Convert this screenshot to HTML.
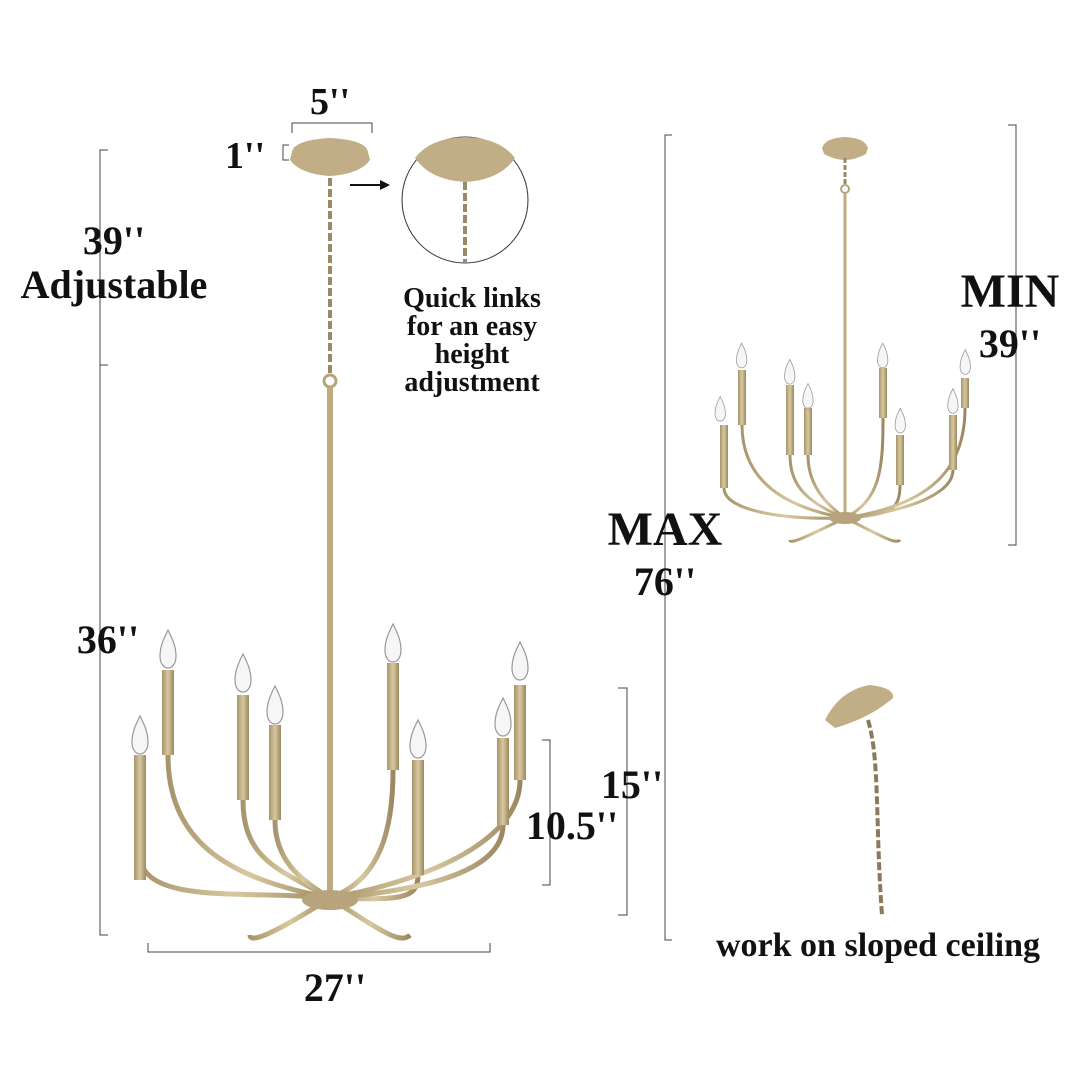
<!DOCTYPE html>
<html><head><meta charset="utf-8"><style>
html,body{margin:0;padding:0;background:#fff;width:1080px;height:1080px;overflow:hidden}
svg{display:block}
text{font-family:"Liberation Serif",serif;font-weight:bold;fill:#111;text-anchor:middle}
</style></head><body>
<svg width="1080" height="1080" viewBox="0 0 1080 1080">
<defs>
<linearGradient id="g" x1="0" x2="1"><stop offset="0" stop-color="#a8946a"/><stop offset=".5" stop-color="#d8c8a0"/><stop offset="1" stop-color="#9c8860"/></linearGradient>
<g id="bulb"><path d="M0,-22 C-4,-14 -8,-6 -8,4 C-8,12 -4,16 0,16 C4,16 8,12 8,4 C8,-6 4,-14 0,-22Z" fill="#f6f6f6" stroke="#999" stroke-width="1.2"/></g>
</defs>
<g stroke="#444" stroke-width="1" fill="none">
<path d="M108,150 H100 V365 H108"/>
<path d="M108,365 H100 V935 H108"/>
<path d="M148,943 V952 H490 V943"/>
<path d="M618,688 H627 V915 H618"/>
<path d="M542,740 H550 V885 H542"/>
<path d="M292,133 V123 H372 V133"/>
<path d="M289,145 H283 V160 H289"/>
<path d="M672,135 H665 V940 H672"/>
<path d="M1008,125 H1016 V545 H1008"/>
<circle cx="465" cy="200" r="63" stroke="#333"/>
</g>
<path d="M350,185 H380" stroke="#111" stroke-width="2"/><path d="M380,180 L390,185 L380,190Z" fill="#111"/>
<!-- main chandelier -->
<path d="M330,178 V375" stroke="#9a8a68" stroke-width="4" stroke-dasharray="8 3" fill="none"/>
<circle cx="330" cy="381" r="6" stroke="#b8a47c" stroke-width="3" fill="none"/>
<path d="M330,388 V895" stroke="#bfab82" stroke-width="6"/>
<g stroke="url(#g)" fill="none" stroke-width="5">
<path d="M330,898 C250,890 150,905 140,860"/>
<path d="M330,898 C240,880 168,850 168,755"/>
<path d="M330,898 C280,870 243,860 243,800"/>
<path d="M330,898 C300,880 275,860 275,820"/>
<path d="M330,898 C380,880 393,830 393,770"/>
<path d="M330,898 C400,900 418,900 418,875"/>
<path d="M330,898 C430,890 503,870 503,825"/>
<path d="M330,898 C430,880 520,840 520,780"/>
<path d="M330,898 C280,930 250,945 250,935"/>
<path d="M330,898 C380,930 400,945 410,935"/>
</g>
<ellipse cx="330" cy="900" rx="28" ry="10" fill="#b8a47c"/>
<path d="M292,152 Q294,140 330,138 Q366,140 368,152 L370,160 Q360,174 330,176 Q300,174 290,160Z" fill="#c2ae86"/>
<g fill="url(#g)">
<rect x="134" y="755" width="12" height="125"/><rect x="162" y="670" width="12" height="85"/>
<rect x="237" y="695" width="12" height="105"/><rect x="269" y="725" width="12" height="95"/>
<rect x="387" y="663" width="12" height="107"/><rect x="412" y="760" width="12" height="115"/>
<rect x="497" y="738" width="12" height="87"/><rect x="514" y="685" width="12" height="95"/>
</g>
<use href="#bulb" x="140" y="738"/><use href="#bulb" x="168" y="652"/><use href="#bulb" x="243" y="676"/>
<use href="#bulb" x="275" y="708"/><use href="#bulb" x="393" y="646"/><use href="#bulb" x="418" y="742"/>
<use href="#bulb" x="503" y="720"/><use href="#bulb" x="520" y="664"/>
<path d="M415,158 Q430,138 465,137 Q500,138 515,158 Q500,180 465,182 Q430,180 415,158Z" fill="#c2ae86"/>
<path d="M465,182 V262" stroke="#9a8a68" stroke-width="4" stroke-dasharray="8 3"/>
<!-- mini chandelier -->
<path d="M822,148 Q825,138 845,137 Q865,138 868,148 L866,154 Q855,160 845,160 Q835,160 824,154Z" fill="#c2ae86"/>
<path d="M845,158 V185" stroke="#9a8a68" stroke-width="3" stroke-dasharray="5 2"/>
<circle cx="845" cy="189" r="4" stroke="#b8a47c" stroke-width="2" fill="none"/>
<path d="M845,193 V515" stroke="#bfab82" stroke-width="3"/>
<g stroke="url(#g)" fill="none" stroke-width="3">
<path d="M845,518 C780,520 724,510 724,488"/><path d="M845,518 C770,505 742,470 742,425"/>
<path d="M845,518 C800,500 790,480 790,455"/><path d="M845,518 C820,500 808,480 808,455"/>
<path d="M845,518 C880,500 883,470 883,418"/><path d="M845,518 C890,515 900,510 900,485"/>
<path d="M845,518 C920,510 953,490 953,470"/><path d="M845,518 C930,505 965,470 965,408"/>
<path d="M845,518 C810,535 790,545 790,540"/><path d="M845,518 C880,535 895,545 900,540"/>
</g>
<ellipse cx="845" cy="518" rx="16" ry="6" fill="#b8a47c"/>
<g fill="url(#g)">
<rect x="720" y="425" width="8" height="63"/><rect x="738" y="370" width="8" height="55"/>
<rect x="786" y="385" width="8" height="70"/><rect x="804" y="408" width="8" height="47"/>
<rect x="879" y="368" width="8" height="50"/><rect x="896" y="435" width="8" height="50"/>
<rect x="949" y="415" width="8" height="55"/><rect x="961" y="378" width="8" height="30"/>
</g>
<g transform="scale(.65)">
<use href="#bulb" x="1108" y="632"/><use href="#bulb" x="1141" y="550"/><use href="#bulb" x="1215" y="575"/>
<use href="#bulb" x="1243" y="612"/><use href="#bulb" x="1358" y="550"/><use href="#bulb" x="1385" y="650"/>
<use href="#bulb" x="1466" y="620"/><use href="#bulb" x="1485" y="560"/>
</g>
<!-- sloped -->
<path d="M825,720 Q840,690 870,685 Q895,688 893,698 Q870,718 835,728Z" fill="#c2ae86"/>
<path d="M868,720 C880,760 875,820 882,915" stroke="#8a7a5a" stroke-width="4" stroke-dasharray="8 3" fill="none"/>
<!-- text -->
<text x="330" y="114" font-size="38">5''</text>
<text x="245" y="168" font-size="38">1''</text>
<text x="114" y="254" font-size="40">39''</text>
<text x="114" y="298" font-size="40">Adjustable</text>
<text x="108" y="653" font-size="40">36''</text>
<text x="335" y="1001" font-size="40">27''</text>
<text x="632" y="798" font-size="40">15''</text>
<text x="572" y="839" font-size="40">10.5''</text>
<text x="472" y="307" font-size="28">Quick links</text>
<text x="472" y="335" font-size="28">for an easy</text>
<text x="472" y="363" font-size="28">height</text>
<text x="472" y="391" font-size="28">adjustment</text>
<text x="665" y="545" font-size="48">MAX</text>
<text x="665" y="595" font-size="40">76''</text>
<text x="1010" y="307" font-size="48">MIN</text>
<text x="1010" y="357" font-size="40">39''</text>
<text x="878" y="956" font-size="34">work on sloped ceiling</text>
</svg>
</body></html>
